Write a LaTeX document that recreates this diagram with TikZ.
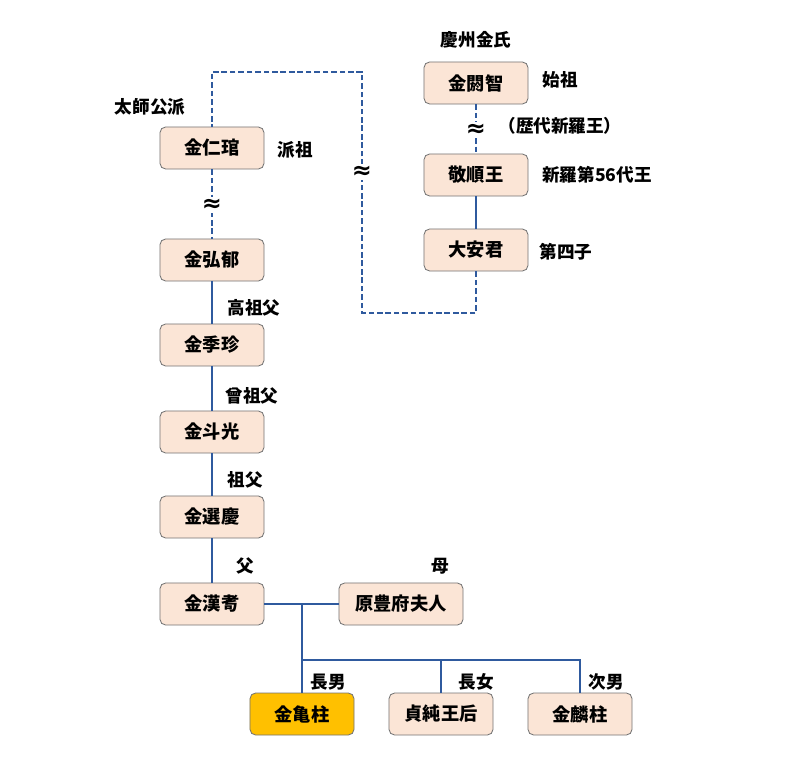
\documentclass[tikz,border=0pt]{standalone}
\usepackage{fontspec}
\setmainfont{Noto Sans CJK JP}
\newfontfamily\symfont{DejaVu Sans}
\usetikzlibrary{positioning}
\definecolor{peach}{HTML}{FBE5D6}
\definecolor{lineblue}{HTML}{2F5A9E}
\definecolor{gold}{HTML}{FFC000}
\begin{document}
\begin{tikzpicture}[x=0.025cm,y=-0.025cm,
box/.style={draw=gray!90!black,line width=0.6pt,rounded corners=4pt,fill=peach,minimum width=2.6cm,minimum height=1.05cm,font=\fontsize{13}{15}\selectfont\bfseries},
lbl/.style={font=\fontsize{12.5}{15}\selectfont\bfseries},
wave/.style={fill=white,inner sep=1pt,font=\symfont\fontsize{17}{17}\selectfont\bfseries},
link/.style={lineblue,line width=1.3pt},
dlink/.style={lineblue,line width=1.3pt,dash pattern=on 4pt off 2pt}]
\useasboundingbox (0,0) rectangle (800,760);
% founders
\node (kimal) [box] at (476,83) {金閼智};
\node (gyeong) [box] at (476,175) {敬順王};
\node (daean) [box] at (476,250) {大安君};
% branch
\node (inkwan) [box] at (212,148) {金仁琯};
\node (hongwook) [box] at (212,260) {金弘郁};
\node (gyejin) [box] at (212,345) {金季珍};
\node (dugwang) [box] at (212,432) {金斗光};
\node (seongyeong) [box] at (212,517) {金選慶};
\node (hangu) [box] at (212,604) {金漢耉};
\node (mother) [box,minimum width=3.1cm] at (401,604) {原豊府夫人};
\node (gwiju) [box,fill=gold] at (302,714) {金亀柱};
\node (queen) [box] at (441,714) {貞純王后};
\node (rinju) [box] at (580,714) {金麟柱};
% labels
\node [lbl] at (476,40) {慶州金氏};
\node [lbl] at (560,80) {始祖};
\node [lbl] at (560,126) {（歴代新羅王）};
\node [lbl] at (597,175) {新羅第56代王};
\node [lbl] at (566,252) {第四子};
\node [lbl] at (150,107) {太師公派};
\node [lbl] at (295,150) {派祖};
\node [lbl] at (254,308) {高祖父};
\node [lbl] at (252,396) {曾祖父};
\node [lbl] at (245,480) {祖父};
\node [lbl] at (245,566) {父};
\node [lbl] at (440,566) {母};
\node [lbl] at (328,682) {長男};
\node [lbl] at (476,682) {長女};
\node [lbl] at (606,682) {次男};
% connectors
\coordinate (c1) at (476,313);
\coordinate (c2) at (362,313);
\coordinate (c3) at (362,72);
\coordinate (c4) at (212,72);
\draw [dlink] (daean.south) -- (c1) -- (c2) -- (c3) -- (c4) -- (inkwan.north);
\draw [dlink] (kimal) -- (gyeong);
\draw [dlink] (inkwan) -- (hongwook);
\draw [link] (gyeong) -- (daean);
\draw [link] (hongwook) -- (gyejin);
\draw [link] (gyejin) -- (dugwang);
\draw [link] (dugwang) -- (seongyeong);
\draw [link] (seongyeong) -- (hangu);
\draw [link] (hangu) -- (mother);
\coordinate (fork) at (302,604);
\coordinate (bar) at (302,660);
\coordinate (barq) at (441,660);
\coordinate (barr) at (580,660);
\draw [link] (fork) -- (gwiju.north);
\draw [link] (bar) -- (barr) -- (rinju.north);
\draw [link] (barq) -- (queen.north);
\node [wave] at (476,130) {≈};
\node [wave] at (362,172) {≈};
\node [wave] at (212,205) {≈};
\end{tikzpicture}
\end{document}
